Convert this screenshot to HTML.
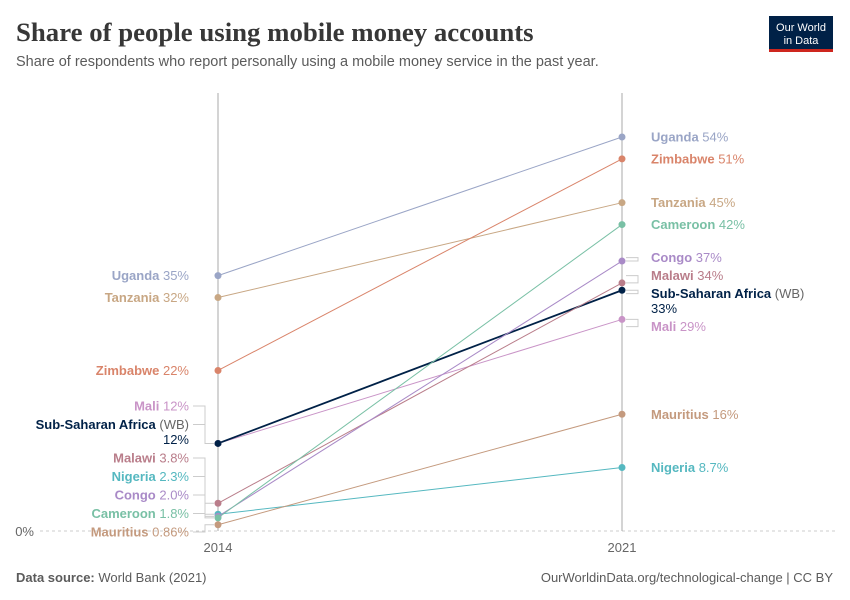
<!DOCTYPE html>
<html><head><meta charset="utf-8"><style>
body{margin:0;background:#fff;font-family:"Liberation Sans",sans-serif;}
#c{position:relative;width:850px;height:600px;overflow:hidden}
</style></head><body>
<div id="c">
<svg id="s" width="850" height="600">
<text x="16" y="41" font-family="Liberation Serif,serif" font-size="26.8" font-weight="bold" fill="#373737">Share of people using mobile money accounts</text>
<text x="16" y="66" font-size="14.5" fill="#5b5b5b">Share of respondents who report personally using a mobile money service in the past year.</text>
<g><rect x="769" y="16" width="64" height="36" fill="#002147"/><rect x="769" y="49" width="64" height="3" fill="#ce261e"/>
<text x="801" y="31" font-size="11" fill="#fff" text-anchor="middle">Our World</text><text x="801" y="44" font-size="11" fill="#fff" text-anchor="middle">in Data</text></g>
<line x1="40" x2="835" y1="531" y2="531" stroke="#ccc" stroke-dasharray="3,3"/>
<text x="34" y="536" font-size="13" fill="#666" text-anchor="end">0%</text>
<g id="g"></g>
<text x="16" y="582" font-size="13" fill="#5b5b5b"><tspan font-weight="bold">Data source:</tspan> World Bank (2021)</text>
<text x="833" y="582" font-size="13" fill="#5b5b5b" text-anchor="end">OurWorldinData.org/technological-change | CC BY</text>
</svg></div>
<script>
const years=["2014","2021"];
const countries=["Uganda","Tanzania","Zimbabwe","Mali","Sub-Saharan Africa","Malawi","Nigeria","Congo","Cameroon","Mauritius"];
const v2014=[35,32,22,12,12,3.8,2.3,2.0,1.8,0.86];
const v2021=[54,45,51,29,33,34,8.7,37,42,16];
const labels2014=["35%","32%","22%","12%","12%","3.8%","2.3%","2.0%","1.8%","0.86%"];
const labels2021=["54%","45%","51%","29%","33%","34%","8.7%","37%","42%","16%"];
const colors=["#9aa5c6","#c8a784","#d9846a","#c994c7","#002147","#b97d8a","#55b8c0","#a98ac7","#79c0a5","#c49a7e"];
const NS="http://www.w3.org/2000/svg",g=document.getElementById('g');
const X=[218,622];const y=v=>531-v*7.296;
function el(t,a,p){const e=document.createElementNS(NS,t);for(const k in a)e.setAttribute(k,a[k]);(p||g).appendChild(e);return e;}
X.forEach((x,i)=>{const l=el('line',{x1:x,x2:x,y1:93,y2:531,stroke:'#aaa'});


const t=el('text',{x:x,y:552,'font-size':13,fill:'#666','text-anchor':'middle'});t.textContent=years[i];

});
countries.forEach((c,i)=>{const l=el('line',{x1:X[0],y1:y(v2014[i]),x2:X[1],y2:y(v2021[i]),stroke:colors[i],'stroke-width':c.startsWith('Sub')?1.8:1});

});
countries.forEach((c,i)=>{[v2014[i],v2021[i]].forEach((v,j)=>{const p=el('circle',{cx:X[j],cy:y(v),r:3.5,fill:colors[i]});

});});
function layout(vals,gap,maxBottom){
 const items=countries.map((c,i)=>({i,ideal:y(vals[i]),ext:c.startsWith('Sub')?15:0})).sort((a,b)=>a.ideal-b.ideal);
 const place=c=>{let o=0;const offs=c.items.map(it=>{const r=o;o+=gap+it.ext;return r;});
   let top=c.items.reduce((s,it,k)=>s+it.ideal-offs[k],0)/c.items.length;
   const last=offs[offs.length-1];if(maxBottom&&top+last>maxBottom)top=maxBottom-last;
   c.pos=offs.map(x=>x+top);c.bottom=top+o;c.top=top;};
 let cl=items.map(it=>{const c={items:[it]};place(c);return c;});
 let ch=true;while(ch){ch=false;for(let k=0;k<cl.length-1;k++){if(cl[k].bottom>cl[k+1].top+0.1){const m={items:cl[k].items.concat(cl[k+1].items)};place(m);cl.splice(k,2,m);ch=true;break;}}}
 const pos={};cl.forEach(c=>c.items.forEach((it,k)=>pos[it.i]=c.pos[k]));return pos;}
function draw(side,vals,labs,gap,maxB){
 const pos=layout(vals,gap,maxB);
 countries.forEach((c,i)=>{const ly=pos[i],py=y(vals[i]);const left=side===0;
  const tx=left?189:651;
  if(Math.abs(ly-py)>3){const x1=left?193:626,x2=left?205:638,x3=left?X[0]-4:X[1]+4;
   const pl=el('polyline',{points:`${x1},${ly} ${x2},${ly} ${x2},${py} ${x3},${py}`,fill:'none',stroke:'#ccc'});
   
   }
  const t=el('text',{x:tx,y:ly+4.5,'font-size':13,fill:colors[i],'text-anchor':left?'end':'start'});
  
  
  const a=el('tspan',{'font-weight':'bold'},t);a.textContent=c;
  if(c.startsWith('Sub')){const w=el('tspan',{fill:'#666'},t);w.textContent=' (WB)';const b=el('tspan',{x:tx,dy:15},t);b.textContent=labs[i];}
  else{const b=el('tspan',{},t);b.textContent=' '+labs[i];}
 });}
draw(0,v2014,labels2014,18.5,532);
draw(1,v2021,labels2021,18,null);
</script></body></html>
